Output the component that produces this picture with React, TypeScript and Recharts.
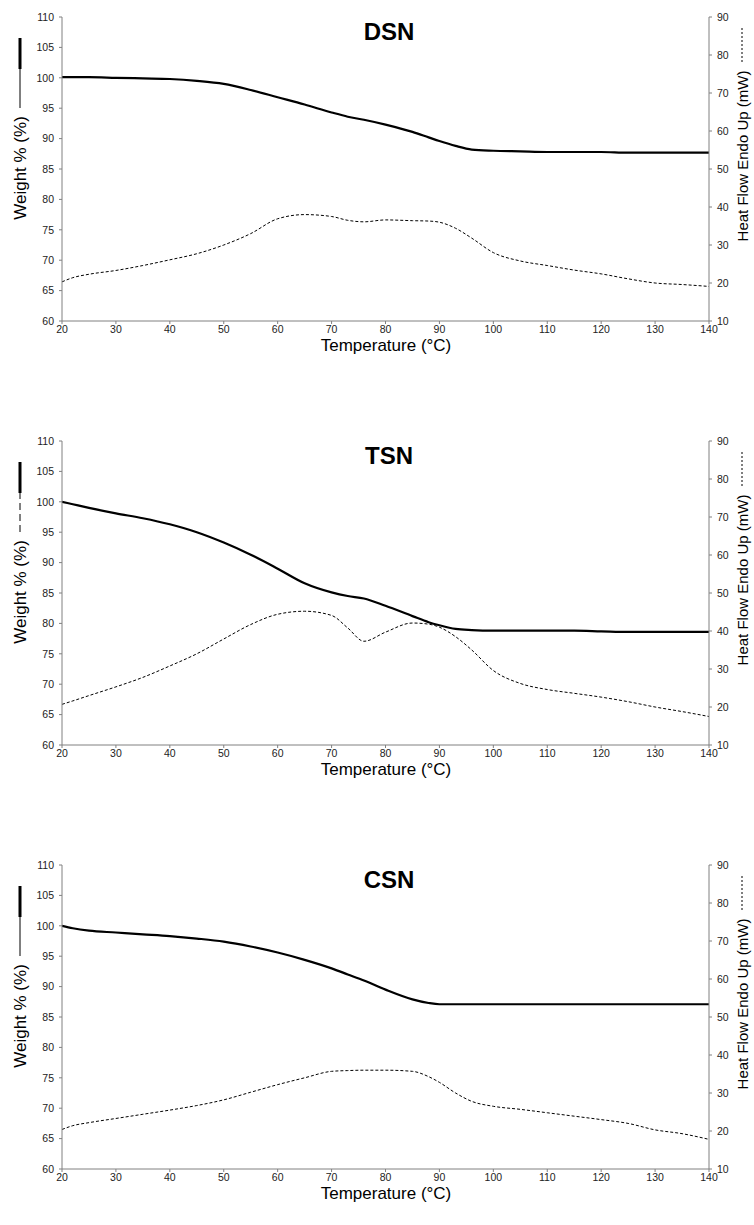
import React from 'react';
import { LineChart, Line, XAxis, YAxis } from 'recharts';

const FONT = '"Liberation Sans", Arial, Helvetica, sans-serif';

const temperatures = [20, 22, 25, 30, 35, 40, 45, 50, 55, 60, 65, 70, 73, 76, 80, 85, 88, 90, 93, 96, 100, 105, 110, 115, 120, 125, 130, 135, 140];
const xTicks = [20, 30, 40, 50, 60, 70, 80, 90, 100, 110, 120, 130, 140];
const weightTicks = [60, 65, 70, 75, 80, 85, 90, 95, 100, 105, 110];
const heatTicks = [10, 20, 30, 40, 50, 60, 70, 80, 90];

const dsnWeight = [100.1, 100.1, 100.1, 100.0, 99.9, 99.8, 99.5, 99.0, 98.0, 96.8, 95.6, 94.3, 93.6, 93.1, 92.3, 91.1, 90.2, 89.6, 88.8, 88.2, 88.0, 87.9, 87.8, 87.8, 87.8, 87.7, 87.7, 87.7, 87.7];
const dsnHeat = [20.3, 21.4, 22.3, 23.3, 24.6, 26.1, 27.7, 30.0, 33.0, 36.9, 38.0, 37.5, 36.5, 36.1, 36.6, 36.4, 36.3, 36.0, 34.4, 31.8, 28.0, 25.8, 24.6, 23.4, 22.4, 21.1, 20.0, 19.6, 19.1];

const tsnWeight = [100.0, 99.6, 99.0, 98.1, 97.3, 96.3, 95.0, 93.3, 91.3, 89.0, 86.6, 85.1, 84.5, 84.1, 82.9, 81.2, 80.2, 79.7, 79.1, 78.9, 78.8, 78.8, 78.8, 78.8, 78.7, 78.6, 78.6, 78.6, 78.6];
const tsnHeat = [20.7, 21.6, 23.0, 25.3, 27.8, 30.8, 34.0, 37.9, 41.7, 44.4, 45.2, 44.1, 40.8, 37.3, 39.7, 42.1, 41.8, 41.0, 38.5, 35.0, 29.6, 26.2, 24.6, 23.6, 22.6, 21.4, 20.0, 18.8, 17.5];

const csnWeight = [100.0, 99.6, 99.2, 98.9, 98.6, 98.3, 97.9, 97.4, 96.6, 95.6, 94.4, 93.0, 92.0, 91.0, 89.5, 87.9, 87.3, 87.1, 87.1, 87.1, 87.1, 87.1, 87.1, 87.1, 87.1, 87.1, 87.1, 87.1, 87.1];
const csnHeat = [20.4, 21.4, 22.2, 23.3, 24.4, 25.5, 26.7, 28.2, 30.2, 32.2, 34.0, 35.7, 35.9, 36.0, 36.0, 35.7, 34.3, 32.8, 30.0, 27.8, 26.5, 25.7, 24.8, 23.9, 23.0, 22.0, 20.3, 19.3, 17.8];

const AXIS_COLOR = '#808080';
const TICK_COLOR = '#222';

function XLabel(props: any) {
  const { title } = props;
  return (
    <g>
      <text x={386} y={351} textAnchor="middle" fontFamily={FONT} fontSize={17} fill="#000">
        Temperature (°C)
      </text>
      <text x={389} y={40} textAnchor="middle" fontFamily={FONT} fontSize={24} fontWeight="bold" fill="#000">
        {title}
      </text>
    </g>
  );
}

function WeightLabel(props: any) {
  const { dashed } = props;
  const cx = 20;
  return (
    <g>
      <text
        x={cx}
        y={168}
        transform={`rotate(-90 ${cx} 168)`}
        textAnchor="middle"
        dominantBaseline="central"
        fontFamily={FONT}
        fontSize={17}
        fill="#000"
      >
        Weight % (%)
      </text>
      <line x1={cx} y1={108} x2={cx} y2={69} stroke="#000" strokeWidth={1} strokeDasharray={dashed ? '7 4' : undefined} />
      <line x1={cx} y1={69} x2={cx} y2={38} stroke="#000" strokeWidth={3} />
    </g>
  );
}

function HeatLabel() {
  const cx = 742;
  return (
    <g>
      <text
        x={cx}
        y={156}
        transform={`rotate(-90 ${cx} 156)`}
        textAnchor="middle"
        dominantBaseline="central"
        fontFamily={FONT}
        fontSize={15}
        fill="#000"
      >
        Heat Flow Endo Up (mW)
      </text>
      <line x1={cx} y1={62} x2={cx} y2={27} stroke="#000" strokeWidth={1} strokeDasharray="2 2" />
    </g>
  );
}

function Panel(props: { title: string; weight: number[]; heat: number[]; top: number; dashed?: boolean }) {
  const { title, weight, heat, top, dashed } = props;
  const data = temperatures.map((t, i) => ({ t, w: weight[i], h: heat[i] }));
  return (
    <div style={{ position: 'absolute', left: 0, top, width: 754, height: 364 }}>
      <LineChart width={754} height={364} data={data} margin={{ top: 17, right: 15, left: 22, bottom: 0 }}>
        <XAxis
          dataKey="t"
          type="number"
          domain={[20, 140]}
          ticks={xTicks}
          interval={0}
          height={43}
          tickSize={3}
          tickMargin={2}
          stroke={AXIS_COLOR}
          tick={{ fill: TICK_COLOR, fontSize: 10.5, fontFamily: FONT }}
          allowDataOverflow
          label={<XLabel title={title} />}
        />
        <YAxis
          yAxisId="w"
          domain={[60, 110]}
          ticks={weightTicks}
          interval={0}
          width={40}
          tickSize={3}
          tickMargin={5}
          stroke={AXIS_COLOR}
          tick={{ fill: TICK_COLOR, fontSize: 10.5, fontFamily: FONT }}
          allowDataOverflow
          label={<WeightLabel dashed={dashed} />}
        />
        <YAxis
          yAxisId="h"
          orientation="right"
          domain={[10, 90]}
          ticks={heatTicks}
          interval={0}
          width={30}
          tickSize={3}
          tickMargin={5}
          stroke={AXIS_COLOR}
          tick={{ fill: TICK_COLOR, fontSize: 10.5, fontFamily: FONT }}
          allowDataOverflow
          label={<HeatLabel />}
        />
        <Line
          yAxisId="h"
          dataKey="h"
          type="monotone"
          stroke="#000"
          strokeWidth={1}
          strokeDasharray="3 2"
          dot={false}
          activeDot={false}
          isAnimationActive={false}
        />
        <Line
          yAxisId="w"
          dataKey="w"
          type="monotone"
          stroke="#000"
          strokeWidth={2.2}
          dot={false}
          activeDot={false}
          isAnimationActive={false}
        />
      </LineChart>
    </div>
  );
}

export default function App() {
  return (
    <div style={{ position: 'absolute', left: 0, top: 0, width: 754, height: 1225, background: '#fff' }}>
      <Panel title="DSN" weight={dsnWeight} heat={dsnHeat} top={0} />
      <Panel title="TSN" weight={tsnWeight} heat={tsnHeat} top={424} dashed />
      <Panel title="CSN" weight={csnWeight} heat={csnHeat} top={848} />
    </div>
  );
}
